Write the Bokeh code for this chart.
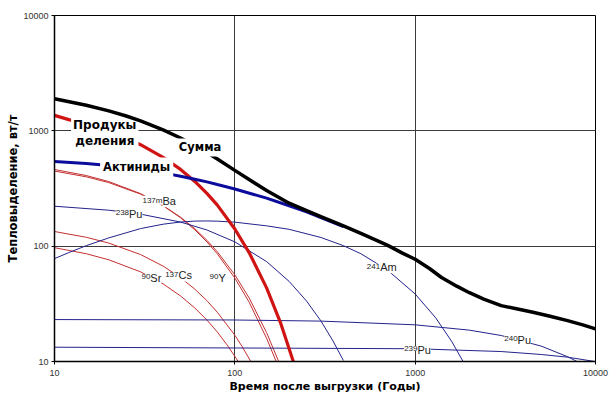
from bokeh.plotting import figure
from bokeh.models import FixedTicker, PrintfTickFormatter
from bokeh.core.properties import value
from bokeh.embed import file_html
from bokeh.resources import INLINE

# ---- axes ----
X_TICKS = [10, 100, 1000, 10000]
Y_TICKS = [10, 100, 1000, 10000]

# ---- series (years after discharge, W/t) ----
T_SUM = [10, 15, 20, 25, 30, 40, 50, 60, 70, 80, 100, 120, 150, 200, 250, 300, 400, 500, 700, 850, 1000, 1200, 1400, 1700, 2000, 2400, 3000, 3700, 4500, 5600, 7000, 8500, 10000]
SUM = [1900, 1667, 1491, 1345, 1222, 1020, 867, 745, 648, 569, 454, 378, 304, 236, 203, 180, 150, 129, 102, 87, 77, 64, 53.5, 45, 39.5, 34.8, 30.5, 28.5, 26.7, 24.7, 22.6, 20.8, 19.2]

T_FP = [10, 12, 15, 20, 25, 30, 40, 50, 60, 70, 80, 100, 120, 150, 180, 211]
FP = [1361, 1250, 1145, 990, 864, 758, 588, 463, 364, 287, 227, 141, 88, 43.5, 21.3, 10]

T_ACT = [10, 15, 20, 30, 40, 50, 60, 70, 80, 100, 150, 200, 250, 300, 400]
ACT = [543, 522, 501, 464, 432, 404, 381, 361, 342, 313, 261, 224, 198, 177, 148]

T_SR90 = [10, 15, 20, 30, 40, 50, 60, 70, 80, 90, 100, 105]
SR90 = [97, 86, 76.2, 59.9, 47.1, 37.0, 29.1, 22.9, 18.0, 14.1, 11.1, 9.86]

T_CS137 = [10, 15, 20, 30, 40, 50, 60, 70, 80, 100, 110, 123]
CS137 = [134, 119.4, 106.4, 84.6, 67.2, 53.3, 42.4, 33.7, 26.7, 16.9, 13.4, 9.93]

T_Y90 = [10, 15, 20, 30, 40, 50, 60, 70, 80, 100, 120, 150, 170]
Y90 = [462, 409.6, 363.1, 285.5, 224.4, 176.4, 138.6, 109.0, 85.7, 52.9, 32.7, 15.9, 9.9]

T_BA137M = [10, 15, 20, 30, 40, 50, 60, 70, 80, 100, 120, 150, 176]
BA137M = [448, 399.3, 355.8, 282.7, 224.5, 178.4, 141.7, 112.5, 89.4, 56.4, 35.6, 17.8, 9.8]

T_PU238 = [10, 20, 30, 50, 70, 100, 150, 200, 250, 300, 350, 400]
PU238 = [222, 205, 189.5, 161.8, 138.2, 109, 73.5, 49.5, 33.4, 22.5, 15.1, 10.2]

T_AM241 = [10, 12, 15, 20, 30, 40, 50, 60, 70, 80, 100, 150, 200, 300, 400, 500, 700, 1000, 1300, 1600, 1850]
AM241 = [78, 88, 101, 118, 142, 155, 162, 165, 165.4, 164.7, 161.5, 150, 140, 119, 101, 86, 62.3, 38.5, 23.9, 14.8, 9.9]

T_PU240 = [10, 100, 300, 1000, 2000, 3000, 5000, 7000, 8000]
PU240 = [23.1, 22.9, 22.4, 20.8, 18.7, 16.8, 13.6, 11.0, 9.9]

T_PU239 = [10, 1000, 3000, 5000, 7000, 10000]
PU239 = [13.3, 12.9, 12.2, 11.5, 10.9, 9.98]

# ---- labels ----
ISO_SUP = ["137m", "238", "90", "137", "90", "241", "240", "239"]
ISO_EL = ["Ba", "Pu", "Sr", "Cs", "Y", "Am", "Pu", "Pu"]
ISO_T = [39.7, 25.9, 34.0, 48.7, 81.2, 640, 3698, 1030]
ISO_Y = [245, 191, 53.2, 55.7, 53.2, 65.8, 15.4, 12.7]

RED = "#d01414"
THIN_RED = "#c43030"
BLUE = "#0c0c9c"
THIN_BLUE = "#23238c"

p = figure(width=613, height=397, x_axis_type="log", y_axis_type="log",
           x_range=(10, 10000), y_range=(10, 10000),
           output_backend="svg", toolbar_location=None,
           min_border_left=54, min_border_right=18, min_border_top=15, min_border_bottom=36)

p.background_fill_color = "white"
p.border_fill_color = "white"
p.outline_line_color = "black"
p.outline_line_width = 1

p.xaxis.ticker = FixedTicker(ticks=X_TICKS)
p.yaxis.ticker = FixedTicker(ticks=Y_TICKS)
p.xgrid.ticker = FixedTicker(ticks=X_TICKS)
p.ygrid.ticker = FixedTicker(ticks=Y_TICKS)
p.xaxis.formatter = PrintfTickFormatter(format="%d")
p.yaxis.formatter = PrintfTickFormatter(format="%d")
p.grid.grid_line_color = "#3c3c3c"
p.grid.grid_line_width = 1

p.axis.axis_line_color = "black"
p.axis.axis_line_width = 1.5
p.axis.major_tick_out = 3
p.axis.major_tick_in = 0
p.axis.minor_tick_line_color = None
p.axis.major_label_text_font = "Liberation Sans"
p.axis.major_label_text_font_size = "9px"
p.axis.major_label_text_color = "#333333"
p.yaxis.major_label_standoff = 3
p.xaxis.major_label_standoff = 5
p.axis.axis_label_text_font = "DejaVu Sans"
p.axis.axis_label_text_font_style = "bold"
p.axis.axis_label_text_color = "black"
p.xaxis.axis_label = "Время после выгрузки (Годы)"
p.yaxis.axis_label = "Тепловыделение, вт/т"
p.xaxis.axis_label_text_font_size = "11px"
p.yaxis.axis_label_text_font_size = "11.5px"
p.xaxis.axis_label_standoff = 1
p.yaxis.axis_label_standoff = 0

# thin component curves
for t, v in [(T_SR90, SR90), (T_CS137, CS137), (T_Y90, Y90), (T_BA137M, BA137M)]:
    p.line(t, v, line_color=THIN_RED, line_width=1)
for t, v in [(T_PU238, PU238), (T_AM241, AM241), (T_PU240, PU240), (T_PU239, PU239)]:
    p.line(t, v, line_color=THIN_BLUE, line_width=1)

# thick group curves
p.line(T_FP, FP, line_color=RED, line_width=3.2)
p.line(T_ACT, ACT, line_color=BLUE, line_width=3)

big_font = value("DejaVu Sans")
p.text(x=[19.0], y=[959], text=["Продукы\nделения"], text_font=big_font,
       text_font_size="12px", text_font_style="bold", text_align="center",
       text_baseline="middle", text_color="black", text_line_height=1.1,
       background_fill_color="white", padding=2)
p.text(x=[17.9], y=[481], text=["Актиниды"], text_font=big_font,
       text_font_size="11.5px", text_font_style="bold", text_align="left",
       text_baseline="middle", text_color="black",
       background_fill_color="white", padding=3)

p.line(T_SUM, SUM, line_color="black", line_width=3.5)

p.text(x=[47.7], y=[718], text=["Сумма"], text_font=big_font,
       text_font_size="11.5px", text_font_style="bold", text_align="left",
       text_baseline="middle", text_color="black",
       background_fill_color="white", padding=2)

small_font = value("Liberation Sans")
p.text(x=ISO_T, y=ISO_Y, text=ISO_EL, text_font=small_font, text_font_size="11px",
       text_align="left", text_baseline="middle", text_color="#222222",
       background_fill_color="white", padding=0)
p.text(x=ISO_T, y=ISO_Y, text=ISO_SUP, text_font=small_font, text_font_size="8px",
       text_align="right", text_baseline="alphabetic", text_color="#222222",
       y_offset=-1, background_fill_color="white", padding=0)

open("out.html", "w").write(file_html(p, INLINE))
